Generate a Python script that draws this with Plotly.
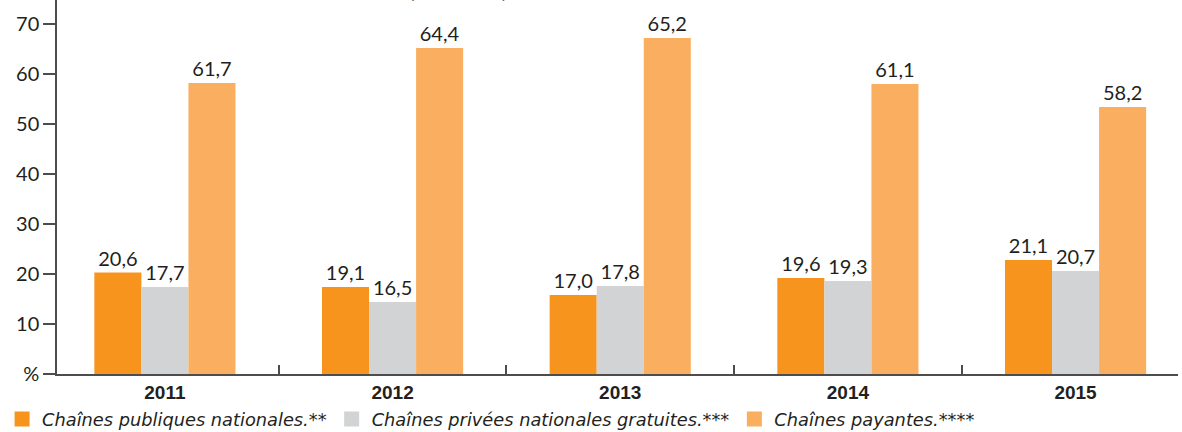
import plotly.graph_objects as go

# ================== data ==================
years = ["2011", "2012", "2013", "2014", "2015"]

# bar heights as drawn in the picture
publiques = [20.3, 17.4, 15.8, 19.2, 22.8]
privees = [17.4, 14.4, 17.6, 18.6, 20.6]
payantes = [58.2, 65.2, 67.2, 58.0, 53.4]

# printed value labels
publiques_lbl = ["20,6", "19,1", "17,0", "19,6", "21,1"]
privees_lbl = ["17,7", "16,5", "17,8", "19,3", "20,7"]
payantes_lbl = ["61,7", "64,4", "65,2", "61,1", "58,2"]

names = ["Chaînes publiques nationales.**",
         "Chaînes privées nationales gratuites.***",
         "Chaînes payantes.****"]
colors = ["#F7941D", "#D1D3D4", "#FAAF60"]

y_ticks = [0, 10, 20, 30, 40, 50, 60, 70]
y_ticktext = ["%", "10", "20", "30", "40", "50", "60", "70"]

TXT = "#231F20"
AXIS = "#4D4D4D"
FONT = "Lato, Open Sans, sans-serif"

# ================== figure ==================
fig = go.Figure()
for vals, lbls, name, col in zip([publiques, privees, payantes],
                                 [publiques_lbl, privees_lbl, payantes_lbl],
                                 names, colors):
    fig.add_trace(go.Bar(
        x=years, y=vals, name=name, showlegend=False,
        marker=dict(color=col, line=dict(width=0)),
        text=lbls, textposition="outside",
        textfont=dict(size=20, color=TXT, family=FONT),
        cliponaxis=False,
    ))

# legend entries with bigger square swatches
for name, col in zip(names, colors):
    fig.add_trace(go.Scatter(
        x=[None], y=[None], mode="markers", name=name,
        marker=dict(symbol="square", size=15, color=col),
    ))

fig.update_layout(
    width=1182, height=432,
    margin=dict(l=57, r=4, t=0, b=58, autoexpand=False),
    paper_bgcolor="white", plot_bgcolor="white",
    barmode="group", bargap=0.38, bargroupgap=0.0,
    font=dict(family=FONT, color=TXT),
    showlegend=True,
    legend=dict(
        orientation="h", x=-0.049, xanchor="left", y=-0.072, yanchor="top",
        font=dict(size=17.8, color=TXT, family="DejaVu Sans, sans-serif", style="italic"),
        itemwidth=30, tracegroupgap=0,
    ),
)

fig.update_xaxes(
    type="category", range=[-0.474, 4.45], automargin=False,
    showline=True, linecolor=AXIS, linewidth=1.5,
    ticks="inside", tickson="boundaries", ticklen=9, tickcolor=AXIS, tickwidth=1.5,
    tickfont=dict(size=19, color=TXT, family="Liberation Sans, Arial, sans-serif", weight="bold"),
    showgrid=False, zeroline=False,
)
fig.update_yaxes(
    range=[0, 74.8], automargin=False,
    tickvals=y_ticks, ticktext=y_ticktext,
    showline=True, linecolor=AXIS, linewidth=1.5,
    ticks="outside", ticklen=12, tickcolor=AXIS, tickwidth=1.5,
    tickfont=dict(size=20, color=TXT, family=FONT),
    showgrid=False, zeroline=False,
)

# bottom of the cut-off title above the chart
fig.add_annotation(
    text="(             )", xref="paper", yref="paper",
    x=0.358, y=1.0, xanchor="center", yanchor="middle", yshift=13,
    showarrow=False, font=dict(size=26, color=TXT, family=FONT),
)

# page body has a default 8px margin; drop it so the figure fills the window
fig.write_html("out.html", config={"displayModeBar": False},
               post_script="document.body.style.margin='0';")
